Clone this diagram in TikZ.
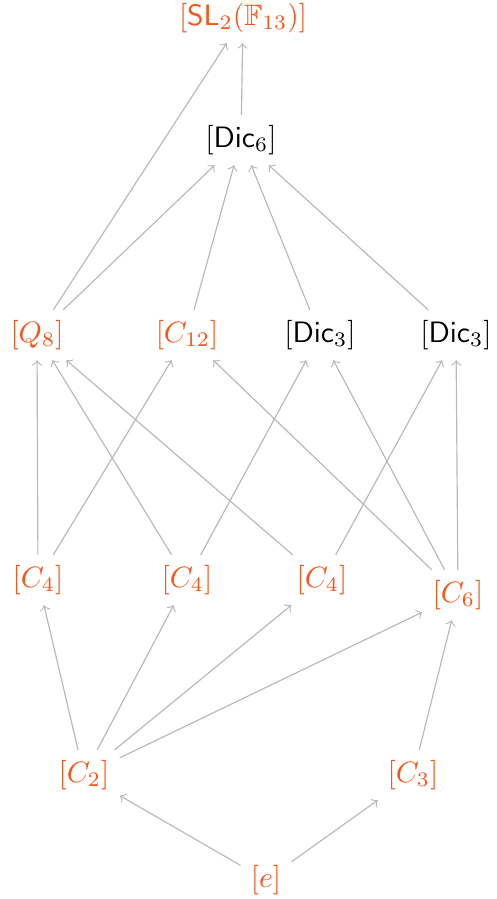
\documentclass[tikz,border=0pt]{standalone}
\usepackage{amsmath,amssymb}
\definecolor{grporange}{RGB}{250,85,25}
\definecolor{grpline}{RGB}{185,185,185}
\tikzset{
  grp/.style={text=grporange},
  sub/.style={->,draw=grpline,line width=0.4pt}
}
\begin{document}
\begin{tikzpicture}[x=0.339pt,y=0.339pt,yscale=-1,xscale=1]
\useasboundingbox (0,0) rectangle (496,899);
% Text Node
\node [grp] (SL) at (243,18) {$[\mathsf{SL}_2(\mathbb{F}_{13})]$};
% Text Node
\node (Dsix) at (241,140) {$[\mathsf{Dic}_6]$};
% Text Node
\node [grp] (Qeight) at (37,335) {$[Q_8]$};
% Text Node
\node [grp] (Ctwelve) at (187,335) {$[C_{12}]$};
% Text Node
\node (DthreeA) at (320,335) {$[\mathsf{Dic}_3]$};
% Text Node
\node (DthreeB) at (456,335) {$[\mathsf{Dic}_3]$};
% Text Node
\node [grp] (CfourA) at (38,580) {$[C_4]$};
% Text Node
\node [grp] (CfourB) at (187,580) {$[C_4]$};
% Text Node
\node [grp] (CfourC) at (322,580) {$[C_4]$};
% Text Node
\node [grp] (Csix) at (458,595) {$[C_6]$};
% Text Node
\node [grp] (Ctwo) at (84,775) {$[C_2]$};
% Text Node
\node [grp] (Cthree) at (413,775) {$[C_3]$};
% Text Node
\node [grp] (E) at (266,880) {$[e]$};
%Straight Lines
\draw [sub] (Dsix) -- (SL);
\draw [sub] (Qeight) -- (SL);
\foreach \s in {Qeight,Ctwelve,DthreeA,DthreeB}
  \draw [sub] (\s) -- (Dsix);
\foreach \s in {CfourA,CfourB,CfourC}
  \draw [sub] (\s) -- (Qeight);
\draw [sub] (CfourA) -- (Ctwelve);
\draw [sub] (Csix) -- (Ctwelve);
\draw [sub] (CfourB) -- (DthreeA);
\draw [sub] (Csix) -- (DthreeA);
\draw [sub] (CfourC) -- (DthreeB);
\draw [sub] (Csix) -- (DthreeB);
\foreach \t in {CfourA,CfourB,CfourC,Csix}
  \draw [sub] (Ctwo) -- (\t);
\draw [sub] (Cthree) -- (Csix);
\draw [sub] (E) -- (Ctwo);
\draw [sub] (E) -- (Cthree);
\end{tikzpicture}
\end{document}
